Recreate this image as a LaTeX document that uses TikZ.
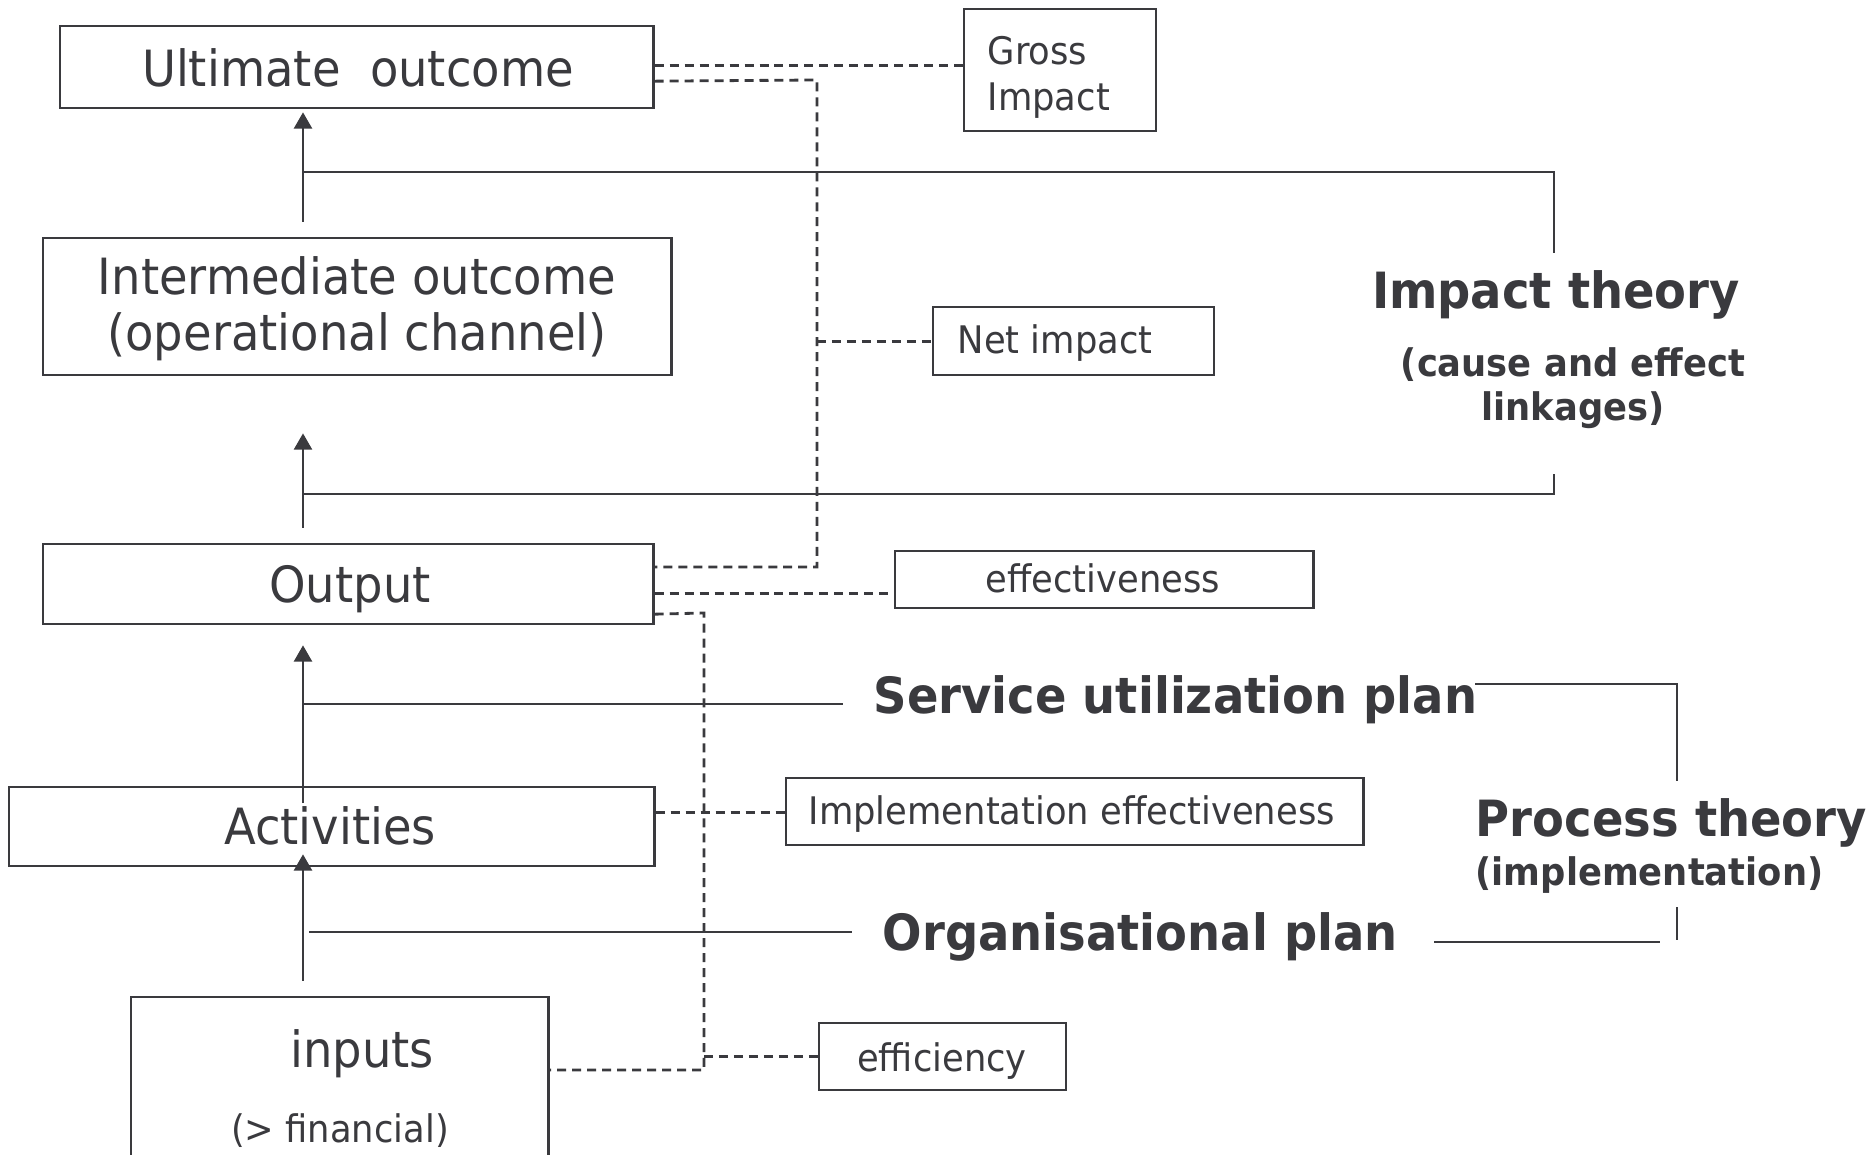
\documentclass[tikz,border=0pt]{standalone}
\usepackage{fontspec}
\setmainfont{DejaVu Sans}[FakeStretch=0.93]
\usetikzlibrary{arrows.meta}
\definecolor{ink}{RGB}{58,58,62}
\newcommand\fbig{\fontsize{14.2pt}{17pt}\selectfont}
\newcommand\fsmall{\fontsize{10.8pt}{13pt}\selectfont}
\begin{document}
\begin{tikzpicture}[x=0.01cm,y=-0.01cm,
 frame/.style={draw=ink,line width=0.65pt,inner sep=0pt,anchor=north west},
 tx/.style={inner sep=0pt,text=ink,font=\fbig,anchor=base},
 txs/.style={tx,font=\fsmall},
 txb/.style={tx,font=\fbig\bfseries},
 txbs/.style={tx,font=\fsmall\bfseries},
 ln/.style={draw=ink,line width=0.65pt},
 arr/.style={ln,-{Triangle[length=4.6pt,width=5.1pt]}},
 dsh/.style={draw=ink,line width=0.8pt,dash pattern=on 2.56pt off 1.7pt}]
\useasboundingbox (0,0) rectangle (1875,1155);
\fill[white] (0,0) rectangle (1875,1155);
% boxes
\node[frame,minimum width=5.93cm,minimum height=0.82cm] (ult) at (59,25) {};
\node[frame,minimum width=1.92cm,minimum height=1.22cm] (gross) at (963,8) {};
\node[frame,minimum width=6.28cm,minimum height=1.37cm] (inter) at (42,237) {};
\node[frame,minimum width=2.81cm,minimum height=0.68cm] (net) at (932,306) {};
\node[frame,minimum width=6.10cm,minimum height=0.80cm] (outp) at (42,543) {};
\node[frame,minimum width=4.18cm,minimum height=0.57cm] (eff) at (894,550) {};
\node[frame,minimum width=6.45cm,minimum height=0.79cm] (act) at (8,786) {};
\node[frame,minimum width=5.77cm,minimum height=0.67cm] (impl) at (785,777) {};
\node[frame,minimum width=4.17cm,minimum height=2.00cm] (inp) at (130,996) {};
\node[frame,minimum width=2.47cm,minimum height=0.67cm] (effic) at (818,1022) {};
% texts
\node[tx] (ultT) at (358,87) {Ultimate\ \ outcome};
\node[txs,anchor=base west] (grossA) at (987,65) {Gross};
\node[txs,anchor=base west] (grossB) at (987,111) {Impact};
\node[tx] (interA) at (357,295) {Intermediate outcome};
\node[tx] (interB) at (357,351) {(operational channel)};
\node[txs,anchor=base west] (netT) at (957,354) {Net impact};
\node[txb] (impT) at (1556,309) {Impact theory};
\node[txbs] (impA) at (1573,377) {(cause and effect};
\node[txbs] (impB) at (1573,421) {linkages)};
\node[tx] (outT) at (350,603) {Output};
\node[txs] (effT) at (1103,593) {effectiveness};
\node[txb,anchor=base west] (sup) at (873,713) {Service utilization plan};
\node[tx] (actT) at (330,844) {Activities};
\node[txs,anchor=base west] (implT) at (808,824) {Implementation effectiveness};
\node[txb,anchor=base west] (proc) at (1475,836) {Process theory};
\node[txbs,anchor=base west] (procB) at (1475,885) {(implementation)};
\node[txb,anchor=base west] (org) at (882,950) {Organisational plan};
\node[tx] (inpT) at (362,1067) {inputs};
\node[txs] (inpB) at (340,1142) {(> financial)};
\node[txs] (efficT) at (942,1071) {efficiency};
% arrows
\coordinate (ax) at (303,0);
\draw[arr,shorten <=0.15cm,shorten >=0.03cm] (inter.north -| ax) -- (ult.south -| ax);
\draw[arr,shorten <=0.15cm,shorten >=0.57cm] (outp.north -| ax) -- (inter.south -| ax);
\draw[arr,shorten <=-0.17cm,shorten >=0.20cm] (act.north -| ax) -- (outp.south -| ax);
\draw[arr,shorten <=0.15cm,shorten >=-0.13cm] (inp.north -| ax) -- (act.south -| ax);
% solid brackets
\coordinate (h1a) at (303,172); \coordinate (it1) at (1554,253);
\draw[ln] (h1a) -| (it1);
\coordinate (h2a) at (303,494); \coordinate (it2) at (1554,474);
\draw[ln] (h2a) -| (it2);
\coordinate (h3a) at (303,704);
\draw[ln,shorten >=0.30cm] (h3a) -- (h3a -| sup.west);
\coordinate (pb1) at (1475,684); \coordinate (pb2) at (1677,781);
\draw[ln] (pb1) -| (pb2);
\coordinate (h4a) at (309,932);
\draw[ln,shorten >=0.30cm] (h4a) -- (h4a -| org.west);
\coordinate (pb4) at (1660,942);
\draw[ln,shorten <=0.36cm] (org.east |- pb4) -- (pb4);
\coordinate (pb5) at (1677,907); \coordinate (pb6) at (1677,940);
\draw[ln] (pb5) -- (pb6);
% dashed
\draw[dsh] ([yshift=0.02cm]ult.east) -- ([yshift=0.02cm]ult.east -| gross.west);
\coordinate (v1top) at (817,80); \coordinate (v1bot) at (817,567);
\draw[dsh] ([yshift=-0.14cm]ult.east) -- (v1top) -- (v1bot) -- (v1bot -| outp.east);
\draw[dsh] (v1top |- net.west) -- (net.west);
\draw[dsh] ([yshift=-0.09cm]outp.east) -- ([yshift=-0.09cm]outp.east -| eff.west);
\coordinate (v2top) at (704,613); \coordinate (v2bot) at (704,1070);
\draw[dsh] ([yshift=-0.30cm]outp.east) -- (v2top) -- (v2bot) -- (v2bot -| inp.east);
\draw[dsh] (v2bot |- effic.west) -- (effic.west);
\draw[dsh] ([yshift=0.145cm]act.east) -- ([yshift=0.145cm]act.east -| impl.west);
\end{tikzpicture}
\end{document}
